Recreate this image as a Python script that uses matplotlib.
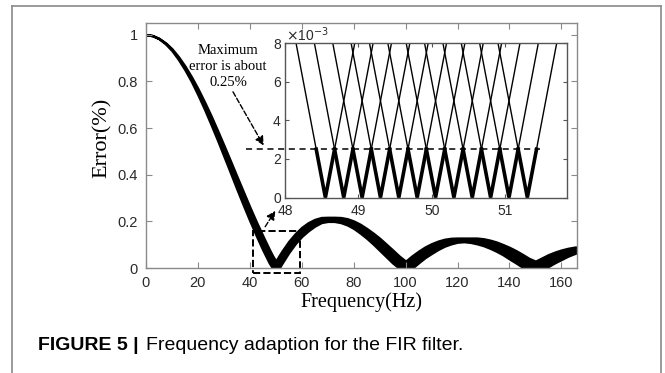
import matplotlib
matplotlib.use("Agg")
import matplotlib.pyplot as plt
from matplotlib.patches import Rectangle
from matplotlib.lines import Line2D

# main plot: upper / lower edge of the error band
freq = [0, 2.5, 5, 7.5, 10, 12.5, 15, 17.5, 20, 22.5, 25, 27.5, 30, 32.5, 35, 37.5,
        40, 42.5, 45, 47.5, 48.75, 50, 51.25, 52.5, 55, 57.5, 60, 62.5, 65, 67.5,
        70, 72.5, 75, 77.5, 80, 82.5, 85, 87.5, 90, 92.5, 95, 97.5, 100, 102.5,
        105, 107.5, 110, 112.5, 115, 117.5, 120, 122.5, 125, 127.5, 130, 132.5,
        135, 137.5, 140, 142.5, 145, 147.5, 150, 152.5, 155, 157.5, 160, 162.5,
        165, 167.5]
err_upper = [1.0, 0.996, 0.984, 0.965, 0.939, 0.905, 0.865, 0.819, 0.768, 0.712,
             0.653, 0.590, 0.525, 0.459, 0.392, 0.326, 0.260, 0.197, 0.137, 0.079,
             0.052, 0.029, 0.052, 0.074, 0.114, 0.147, 0.174, 0.194, 0.208, 0.216,
             0.217, 0.217, 0.216, 0.211, 0.201, 0.187, 0.169, 0.149, 0.127, 0.102,
             0.077, 0.051, 0.029, 0.052, 0.072, 0.090, 0.104, 0.115, 0.123, 0.127,
             0.128, 0.128, 0.128, 0.128, 0.125, 0.119, 0.111, 0.100, 0.088, 0.074,
             0.058, 0.041, 0.029, 0.043, 0.057, 0.068, 0.077, 0.084, 0.089, 0.091]
err_lower = [1.0, 0.996, 0.983, 0.961, 0.932, 0.894, 0.850, 0.800, 0.743, 0.682,
             0.617, 0.550, 0.480, 0.410, 0.339, 0.270, 0.203, 0.139, 0.078, 0.022,
             0.0, 0.0, 0.0, 0.023, 0.067, 0.105, 0.136, 0.160, 0.180, 0.195,
             0.200, 0.200, 0.195, 0.185, 0.170, 0.150, 0.128, 0.103, 0.076, 0.049,
             0.022, 0.0, 0.0, 0.0, 0.023, 0.045, 0.063, 0.080, 0.094, 0.104,
             0.111, 0.113, 0.110, 0.104, 0.096, 0.085, 0.072, 0.057, 0.039, 0.022,
             0.004, 0.0, 0.0, 0.0, 0.007, 0.023, 0.037, 0.051, 0.062, 0.072]

# inset: zero-error frequencies of each filter, V arms reach 8e-3 at +-0.4 Hz
v_centers = [48.55, 48.80, 49.05, 49.30, 49.55, 49.80, 50.05, 50.30, 50.55, 50.80, 51.05, 51.30]
arm_halfwidth = 0.4
arm_top = 8e-3
max_err = 2.5e-3

xticks_main = [0, 20, 40, 60, 80, 100, 120, 140, 160]
yticks_main = [0, 0.2, 0.4, 0.6, 0.8, 1]
ytick_labels_main = ["0", "0.2", "0.4", "0.6", "0.8", "1"]
xticks_inset = [48, 49, 50, 51]
yticks_inset = [0, 0.002, 0.004, 0.006, 0.008]
ytick_labels_inset = ["0", "2", "4", "6", "8"]

serif = "Liberation Serif"
sans = "Liberation Sans"
plt.rcParams["font.family"] = sans

fig = plt.figure(figsize=(6.65, 3.73), dpi=100)
W, H = 665.0, 373.0

# page frame
frame_c = "#8a8a8a"
fig.add_artist(Line2D([12 / W, 12 / W], [0, 1 - 6 / H], color=frame_c, lw=1.2))
fig.add_artist(Line2D([12 / W, 661 / W], [1 - 6 / H, 1 - 6 / H], color=frame_c, lw=1.2))
fig.add_artist(Line2D([661 / W, 661 / W], [0, 1 - 6 / H], color=frame_c, lw=1.2))

ax = fig.add_axes([146 / W, 1 - 268 / H, 431 / W, 245 / H])
ax.fill_between(freq, err_lower, err_upper, color="black", lw=1.8, edgecolor="black")
ax.set_xlim(0, 166)
ax.set_ylim(0, 1.05)
ax.set_xticks(xticks_main)
ax.set_yticks(yticks_main)
ax.set_yticklabels(ytick_labels_main)
axis_c = "#8a8a8a"
for s in ax.spines.values():
    s.set_color(axis_c)
    s.set_linewidth(1.0)
ax.tick_params(direction="in", top=True, right=True, length=4, color=axis_c,
               labelsize=10.5, labelcolor="#2a2a2a")
ax.tick_params(axis="x", pad=6)
ax.tick_params(axis="y", pad=6)
ax.set_xlabel("Frequency(Hz)", family=serif, fontsize=14.5)
ax.xaxis.set_label_coords(0.5, -0.1)
ax.set_ylabel("Error(%)", family=serif, fontsize=16)
ax.yaxis.set_label_coords(-0.079, 0.53)

ax.text(31.6, 0.862, "Maximum\nerror is about\n0.25%", family=serif, fontsize=10.5,
        ha="center", va="center", linespacing=1.3)
ax.annotate("", xy=(45.3, 0.525), xytext=(33.5, 0.755),
            arrowprops=dict(arrowstyle="-|>", linestyle="--", color="black", lw=1,
                            mutation_scale=13, shrinkA=0, shrinkB=0))
ax.add_patch(Rectangle((41.2, -0.023), 18.0, 0.18, fill=False, ls="--", lw=1.4,
                       edgecolor="black", clip_on=False))
ax.annotate("", xy=(49.8, 0.245), xytext=(45.9, 0.177),
            arrowprops=dict(arrowstyle="-|>", linestyle="--", color="black", lw=1,
                            mutation_scale=13, shrinkA=0, shrinkB=0))

# inset
ax2 = fig.add_axes([285 / W, 1 - 197.5 / H, 282 / W, 154.5 / H])
ax2.set_facecolor("white")
half_low = arm_halfwidth * max_err / arm_top
for c in v_centers:
    ax2.plot([c - arm_halfwidth, c, c + arm_halfwidth], [arm_top, 0, arm_top],
             color="black", lw=1.0)
    ax2.plot([c - half_low, c, c + half_low], [max_err, 0, max_err],
             color="black", lw=2.6, solid_joinstyle="miter")
ax2.plot([47.47, 51.47], [max_err, max_err], color="black", lw=1.1, ls=(0, (4, 3)),
         clip_on=False)
ax2.set_xlim(48, 51.84)
ax2.set_ylim(0, 0.008)
ax2.set_xticks(xticks_inset)
ax2.set_yticks(yticks_inset)
ax2.set_yticklabels(ytick_labels_inset)
for s in ax2.spines.values():
    s.set_color("#555555")
    s.set_linewidth(1.0)
ax2.tick_params(direction="in", top=True, right=True, length=3, color="#555555",
                labelsize=10, labelcolor="#2a2a2a")
ax2.tick_params(axis="x", pad=5)
ax2.tick_params(axis="y", pad=3)
ax2.text(0.005, 0.995, r"$\times$10$^{-3}$", transform=ax2.transAxes, fontsize=10,
         ha="left", va="bottom", color="#2a2a2a")

# caption
t1 = fig.text(38 / W, 1 - 345 / H, "FIGURE 5 |", fontsize=14, weight="bold",
              ha="left", va="center", family=sans)
fig.text(146 / W, 1 - 345 / H, "Frequency adaption for the FIR filter.", fontsize=14,
         ha="left", va="center", family=sans)

fig.savefig("out.png", dpi=100)
